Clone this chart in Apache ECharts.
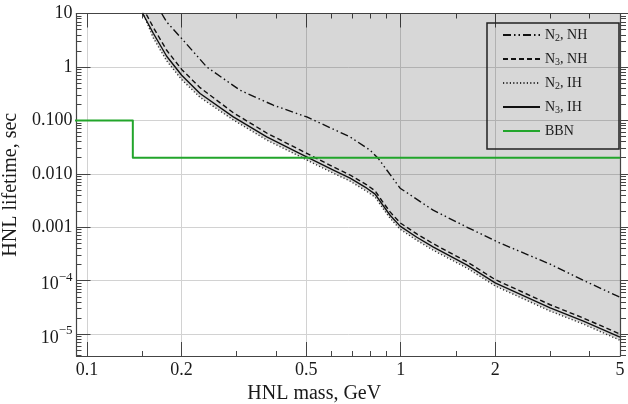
<!DOCTYPE html>
<html><head><meta charset="utf-8">
<script src="https://cdn.jsdelivr.net/npm/echarts@6/dist/echarts.min.js"></script>
<style>html,body{margin:0;padding:0;background:#fff}#c{width:628px;height:404px}</style>
</head><body><div id="c"></div>
<script>
// ---- data ----
const n2nhMass = [0.173, 0.1795, 0.2004, 0.2408, 0.3075, 0.3927, 0.5019, 0.6898, 0.7986, 0.847, 0.9956, 1.2685, 1.628, 2.075, 2.995, 3.815, 5.0];
const n2nhLife = [10, 6.95, 3.40, 1.0, 0.3665, 0.1921, 0.1161, 0.049, 0.02765, 0.0196, 0.00538, 0.00209, 0.001, 5.04e-4, 2.04e-4, 1.02e-4, 4.9e-5];

const lowMass  = [0.1505, 0.1627, 0.1795, 0.2004, 0.2293, 0.2927, 0.3741, 0.4777, 0.6101, 0.6898, 0.7796, 0.8288, 0.8723, 0.925, 0.9956, 1.1255, 1.2715, 1.628, 2.0, 2.995, 3.824, 5.0];
const n3nhLife = [13, 5.5, 2.05, 0.90, 0.41, 0.139, 0.058, 0.028, 0.0135, 0.0095, 0.0062, 0.0048, 0.0031, 0.00194, 0.00121, 7.5e-4, 4.9e-4, 2.25e-4, 1.05e-4, 3.55e-5, 2.0e-5, 1.0e-5];
const n2ihLife = [10.5, 3.5, 1.3, 0.58, 0.27, 0.102, 0.043, 0.021, 0.0103, 0.0073, 0.0047, 0.00366, 0.00238, 0.00148, 9.2e-4, 5.7e-4, 3.7e-4, 1.72e-4, 8.0e-5, 2.7e-5, 1.54e-5, 7.7e-6];
const n3ihLife = [10, 4.27, 1.585, 0.70, 0.318, 0.116, 0.049, 0.024, 0.0117, 0.00828, 0.00538, 0.00416, 0.0027, 0.00168, 0.00105, 6.5e-4, 4.24e-4, 1.95e-4, 9.1e-5, 3.1e-5, 1.75e-5, 8.8e-6];

const bbnMass = [0.09, 0.14, 0.14, 5.0];
const bbnLife = [0.1, 0.1, 0.02, 0.02];

const seriesNames = ['N2, NH', 'N3, NH', 'N2, IH', 'N3, IH', 'BBN'];

const xTickValues = [0.1, 0.2, 0.5, 1, 2, 5];
const xTickLabels = ['0.1', '0.2', '0.5', '1', '2', '5'];
const xMinorValues = [0.15, 0.3, 0.4, 0.6, 0.7, 0.8, 0.9, 1.5, 3, 4];
const yTickValues = [1e-5, 1e-4, 1e-3, 1e-2, 1e-1, 1, 10];
const yTickLabels = ['{b|10}{sup|\u22125}', '{b|10}{sup|\u22124}', '0.001', '0.010', '0.100', '1', '10'];

const xName = 'HNL mass, GeV';
const yName = 'HNL lifetime, sec';

// ---- chart ----
const xMin = 0.0926, xMax = 5.0, yMin = 3.9e-6, yMax = 10;
const FONT = '"Liberation Serif", "Times New Roman", serif';
const AX = '#444';

const yMinorValues = [];
for (let e = -6; e <= 0; e++) {
  for (let k = 2; k <= 9; k++) {
    const v = Number((k * Math.pow(10, e)).toPrecision(3));
    if (v > yMin && v < yMax) yMinorValues.push(v);
  }
}

function pick(values, labels, v) {
  for (let i = 0; i < values.length; i++) {
    if (Math.abs(Math.log10(v) - Math.log10(values[i])) < 1e-6) return labels[i];
  }
  return '';
}
function pairs(xs, ys) { return xs.map((x, i) => [x, ys[i]]); }

function xAx(pos, vals, len, labels, line, split) {
  return {
    type: 'log', logBase: 10, min: xMin, max: xMax, position: pos, gridIndex: 0,
    axisLine: { show: line, onZero: false, lineStyle: { color: AX, width: 1.2 } },
    axisTick: { show: true, inside: true, length: len, customValues: vals, lineStyle: { color: AX, width: 1 } },
    axisLabel: labels ? { show: true, customValues: xTickValues, margin: 5, color: '#1a1a1a', fontFamily: FONT, fontSize: 18,
      formatter: v => pick(xTickValues, xTickLabels, v) } : { show: false },
    splitLine: { show: split, lineStyle: { color: '#d2d2d2', width: 1 } },
    minorTick: { show: false }, minorSplitLine: { show: false }
  };
}
function yAx(pos, vals, len, inside, labels, line, split) {
  return {
    type: 'log', logBase: 10, min: yMin, max: yMax, position: pos, gridIndex: 0,
    axisLine: { show: line, onZero: false, lineStyle: { color: AX, width: 1.2 } },
    axisTick: { show: true, inside: inside, length: len, customValues: vals, lineStyle: { color: AX, width: 1 } },
    axisLabel: labels ? { show: true, customValues: yTickValues, margin: 4, color: '#1a1a1a', fontFamily: FONT, fontSize: 18,
      formatter: v => pick(yTickValues, yTickLabels, v),
      rich: {
        b: { fontFamily: FONT, fontSize: 18, color: '#1a1a1a', lineHeight: 20, padding: [8, 0, 0, 0] },
        sup: { fontFamily: FONT, fontSize: 13, color: '#1a1a1a', lineHeight: 12, verticalAlign: 'top' }
      } } : { show: false },
    splitLine: { show: split, lineStyle: { color: '#d2d2d2', width: 1 } },
    minorTick: { show: false }, minorSplitLine: { show: false }
  };
}

const xAxes = [
  Object.assign(xAx('bottom', xTickValues, 14, true, true, true), {
    name: xName, nameLocation: 'middle', nameGap: 24,
    nameTextStyle: { fontFamily: FONT, fontSize: 20, color: '#1a1a1a', padding: [0, 68, 0, 0] }
  }),
  xAx('bottom', xMinorValues, 5, false, false, false),
  xAx('top', xTickValues, 14, false, true, false),
  xAx('top', xMinorValues, 5, false, false, false)
];
const yAxes = [
  Object.assign(yAx('left', yTickValues, 14, true, true, true, true), {
    name: yName, nameLocation: 'middle', nameGap: 45,
    nameTextStyle: { fontFamily: FONT, fontSize: 20, color: '#1a1a1a' }
  }),
  yAx('left', yMinorValues, 5, true, false, false, false),
  yAx('right', yTickValues, 10, false, false, true, false),
  yAx('right', yMinorValues, 6, false, false, false, false)
];

function lineSeries(name, data, color, width, type, z) {
  return {
    name: name, type: 'line', data: data, xAxisIndex: 0, yAxisIndex: 0,
    symbol: 'none', showSymbol: false, smooth: false, clip: true, z: z,
    lineStyle: { color: color, width: width, type: type, join: 'round' },
    itemStyle: { color: color }
  };
}

const option = {
  animation: false,
  backgroundColor: '#ffffff',
  grid: { left: 76.5, right: 8, top: 13.5, bottom: 48, containLabel: false, outerBoundsMode: 'none' },
  xAxis: xAxes,
  yAxis: yAxes,
  legend: {
    data: seriesNames,
    orient: 'vertical', left: 487, top: 23,
    padding: [4, 12, 10, 15],
    itemGap: 8, itemWidth: 37, itemHeight: 16,
    borderColor: '#222', borderWidth: 1.5, backgroundColor: 'transparent',
    itemStyle: { opacity: 0, borderWidth: 0 },
    formatter: name => name.replace(/^N(\d)(.*)$/, '{n|N}{s|$1}{n|$2}'),
    textStyle: {
      fontFamily: FONT, fontSize: 14, color: '#1a1a1a', lineHeight: 16, width: 62,
      rich: {
        n: { fontFamily: FONT, fontSize: 14, color: '#1a1a1a', lineHeight: 16 },
        s: { fontFamily: FONT, fontSize: 10, color: '#1a1a1a', lineHeight: 10, verticalAlign: 'bottom' }
      }
    }
  },
  series: [
    {
      name: 'fill', type: 'line', data: pairs(lowMass, n2ihLife), xAxisIndex: 0, yAxisIndex: 0,
      symbol: 'none', showSymbol: false, smooth: false, z: 1, silent: true,
      lineStyle: { width: 0, opacity: 0 },
      areaStyle: { origin: 'end', color: 'rgba(0,0,0,0.225)' }
    },
    lineSeries('N2, NH', pairs(n2nhMass, n2nhLife), '#111', 1.4, [8, 3, 1.5, 3, 1.5, 3], 3),
    lineSeries('N3, NH', pairs(lowMass, n3nhLife), '#111', 1.4, [5, 3], 3),
    lineSeries('N2, IH', pairs(lowMass, n2ihLife), '#333', 1.4, [1.2, 2.2], 3),
    lineSeries('N3, IH', pairs(lowMass, n3ihLife), '#111', 1.4, 'solid', 4),
    lineSeries('BBN', pairs(bbnMass, bbnLife), '#22a52b', 2, 'solid', 5)
  ]
};

const chart = echarts.init(document.getElementById('c'), null, { renderer: 'canvas' });
chart.setOption(option);
</script>
</body></html>
